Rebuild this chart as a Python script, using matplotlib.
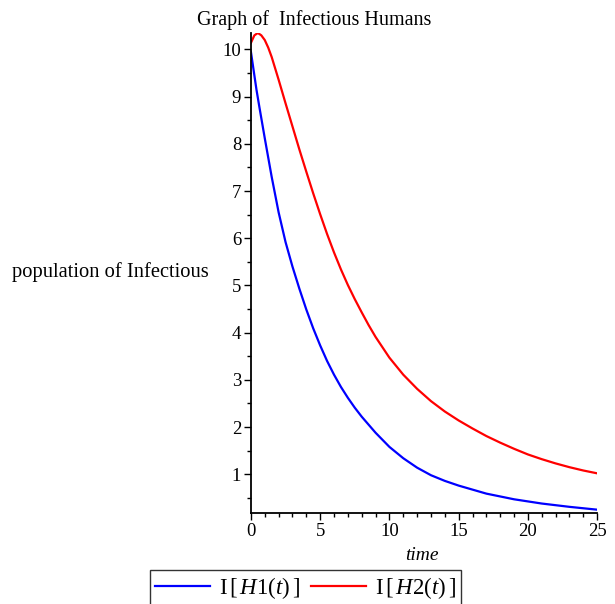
import matplotlib
matplotlib.use("Agg")
import matplotlib.pyplot as plt
from matplotlib.ticker import MultipleLocator

plt.rcParams['font.family'] = ['Liberation Serif', 'DejaVu Serif']
plt.rcParams['mathtext.fontset'] = 'custom'
plt.rcParams['mathtext.rm'] = 'Liberation Serif'
plt.rcParams['mathtext.it'] = 'Liberation Serif:italic'

# values
t_h1 = [0, 0.2, 0.4, 0.6, 0.8, 1.0, 1.5, 2.0, 2.5, 3.0, 3.5, 4.0, 4.5, 5.0,
        5.5, 6.0, 6.5, 7.0, 7.5, 8, 9, 10, 11, 12, 13, 14, 15, 17, 19, 21, 23, 25]
h1 = [9.95, 9.55, 9.15, 8.8, 8.46, 8.12, 7.3, 6.55, 5.92, 5.4, 4.93, 4.49, 4.09, 3.73,
      3.40, 3.11, 2.85, 2.62, 2.41, 2.22, 1.88, 1.58, 1.34, 1.14, 0.98, 0.86, 0.76,
      0.59, 0.47, 0.38, 0.31, 0.25]

t_h2 = [0, 0.25, 0.5, 0.75, 1.0, 1.25, 1.5, 2.0, 2.5, 3.0, 3.5, 4.0, 4.5, 5.0,
        5.5, 6.0, 6.5, 7.0, 7.5, 8.0, 8.5, 9.0, 10, 11, 12, 13, 14, 15, 16, 17,
        18, 19, 20, 21, 22, 23, 24, 25]
h2 = [10.14, 10.30, 10.35, 10.30, 10.2, 10.04, 9.84, 9.36, 8.86, 8.37, 7.88, 7.41,
      6.95, 6.51, 6.09, 5.70, 5.34, 5.01, 4.71, 4.43, 4.16, 3.91, 3.47, 3.11, 2.81,
      2.55, 2.33, 2.14, 1.97, 1.81, 1.67, 1.54, 1.42, 1.32, 1.23, 1.15, 1.08, 1.02]

fig = plt.figure(figsize=(6.15, 6.04), dpi=100)
ax = fig.add_axes([0.408, 0.1507, 0.563, 0.7947])

l1, = ax.plot(t_h1, h1, color='#0000ff', lw=1.6, label=r'I$\,[\,\mathit{H1}(t)\,]$')
l2, = ax.plot(t_h2, h2, color='#ff0000', lw=1.6, label=r'I$\,[\,\mathit{H2}(t)\,]$')

ax.set_xlim(0, 25)
ax.set_ylim(0.18, 10.35)
ax.xaxis.set_major_locator(MultipleLocator(5))
ax.xaxis.set_minor_locator(MultipleLocator(1))
ax.yaxis.set_minor_locator(MultipleLocator(0.5))
ax.set_yticks(range(1, 11))

for s in ['top', 'right']:
    ax.spines[s].set_visible(False)
for s in ['left', 'bottom']:
    ax.spines[s].set_linewidth(1.3)

ax.tick_params(which='major', direction='out', length=5, width=1, labelsize=13.5, pad=2)
ax.tick_params(which='minor', direction='out', length=3, width=1)

fig.text(0.511, 0.967, 'Graph of  Infectious Humans', ha='center', va='center', fontsize=14.5)
fig.text(0.686, 0.081, 'time', ha='center', va='center', fontsize=14, style='italic')
fig.text(0.0195, 0.55, 'population of Infectious', ha='left', va='center', fontsize=14.8)

leg = fig.legend(handles=[l1, l2], loc='upper left', bbox_to_anchor=(150 / 615, 1 - 570 / 604),
                 ncol=2, fancybox=False, edgecolor='black', fontsize=16.5,
                 handlelength=2.4, columnspacing=0.5, borderaxespad=0, borderpad=0.2,
                 handletextpad=0.4)
leg.get_frame().set_linewidth(1.0)

fig.savefig('out.png', dpi=100)
